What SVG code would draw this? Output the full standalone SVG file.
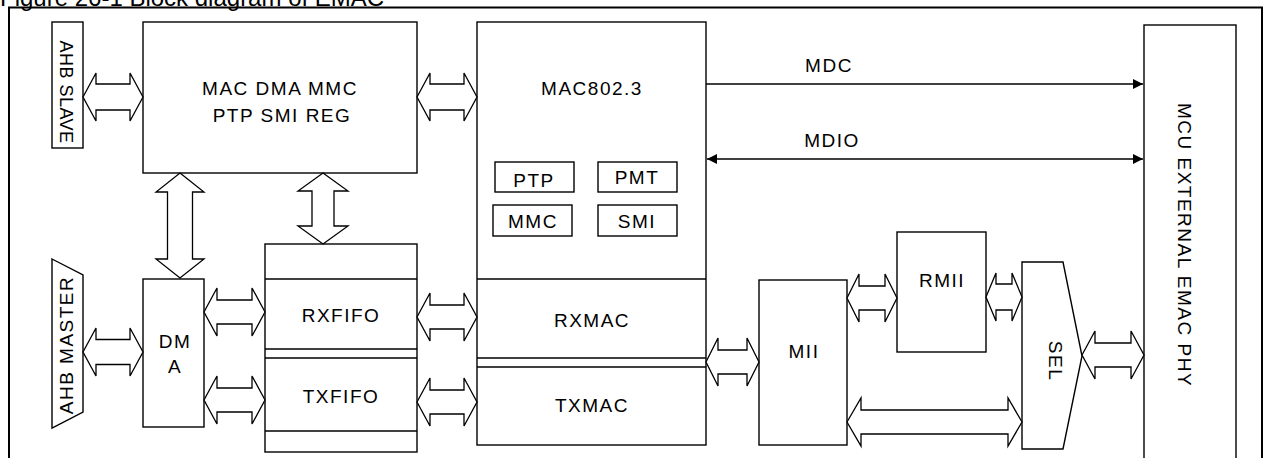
<svg xmlns="http://www.w3.org/2000/svg" width="1268" height="458" viewBox="0 0 1268 458">
<style>
.b{fill:#fff;stroke:#000;stroke-width:1.4}
.ln{fill:none;stroke:#000;stroke-width:1.4}
.ar{fill:#fff;stroke:#000;stroke-width:1.3;stroke-linejoin:miter}
text{font-family:"Liberation Sans",Arial,sans-serif;font-size:19px;letter-spacing:1.5px;fill:#000;text-anchor:middle}
.cap{font-size:24px;letter-spacing:0;text-anchor:start}
</style>
<defs>
<marker id="ah" viewBox="0 0 10 10" refX="10" refY="5" markerWidth="11" markerHeight="10" markerUnits="userSpaceOnUse" orient="auto-start-reverse">
<path d="M0,0 L10,5 L0,10 Z" fill="#000"/>
</marker>
</defs>
<rect width="1268" height="458" fill="#fff"/>
<text class="cap" x="0" y="6">Figure 26-1 Block diagram of EMAC</text>
<rect x="9" y="7.5" width="1253" height="470" fill="none" stroke="#000" stroke-width="2"/>

<g id="ahb-slave"><rect class="b" x="52" y="22" width="31" height="126"/><text transform="translate(67,92) rotate(90)" y="7" style="font-size:18px;letter-spacing:0.5px">AHB SLAVE</text></g>
<g id="mac-dma-reg"><rect class="b" x="143" y="22" width="274" height="151"/><text x="280" y="95">MAC DMA MMC</text><text x="282" y="122">PTP SMI REG</text></g>
<g id="mac8023"><rect class="b" x="477" y="22" width="229" height="423"/><text x="592" y="95">MAC802.3</text>
<line class="ln" x1="477" y1="279" x2="706" y2="279"/><line class="ln" x1="477" y1="358" x2="706" y2="358"/><line class="ln" x1="477" y1="367" x2="706" y2="367"/></g>
<g id="ptp"><rect class="b" x="495" y="162" width="79" height="30"/><text x="534" y="187">PTP</text></g>
<g id="pmt"><rect class="b" x="598" y="162" width="79" height="30"/><text x="637" y="184">PMT</text></g>
<g id="mmc"><rect class="b" x="493" y="205" width="79" height="31"/><text x="533" y="228">MMC</text></g>
<g id="smi"><rect class="b" x="598" y="205" width="79" height="31"/><text x="637" y="228">SMI</text></g>
<g id="rxmac"><text x="592" y="327">RXMAC</text></g>
<g id="txmac"><text x="592" y="412">TXMAC</text></g>
<g id="fifo"><rect class="b" x="265" y="244" width="152" height="208"/>
<line class="ln" x1="265" y1="279" x2="417" y2="279"/><line class="ln" x1="265" y1="349" x2="417" y2="349"/><line class="ln" x1="265" y1="358" x2="417" y2="358"/><line class="ln" x1="265" y1="431" x2="417" y2="431"/></g>
<g id="rxfifo"><text x="341" y="322">RXFIFO</text></g>
<g id="txfifo"><text x="341" y="403">TXFIFO</text></g>
<g id="dma"><rect class="b" x="143" y="279" width="61" height="148"/><text x="175" y="348">DM</text><text x="175" y="373">A</text></g>
<g id="ahb-master"><polygon class="b" points="52,259 83,275 83,412 52,428"/><text transform="translate(66,345) rotate(-90)" y="7">AHB MASTER</text></g>
<g id="mii"><rect class="b" x="759" y="280" width="88" height="165"/><text x="804" y="358">MII</text></g>
<g id="rmii"><rect class="b" x="897" y="232" width="89" height="120"/><text x="942" y="287">RMII</text></g>
<g id="sel"><polygon class="b" points="1022,262 1063,262 1082,356 1063,449 1022,449"/><text transform="translate(1056,361) rotate(90)" y="7">SEL</text></g>
<g id="phy"><rect class="b" x="1144" y="25" width="92" height="440"/><text transform="translate(1185,245) rotate(90)" y="7">MCU EXTERNAL EMAC PHY</text></g>

<g id="connectors">
<path class="ar" d="M83,97 L96,73 L96,84 L130,84 L130,73 L143,97 L130,121 L130,110 L96,110 L96,121 Z"/>
<path class="ar" d="M417,97 L430,73 L430,84 L464,84 L464,73 L477,97 L464,121 L464,110 L430,110 L430,121 Z"/>
<path class="ar" d="M83,352 L96,328 L96,339.5 L130,339.5 L130,328 L143,352 L130,376 L130,364.5 L96,364.5 L96,376 Z"/>
<path class="ar" d="M204,312 L217,288 L217,300 L252,300 L252,288 L265,312 L252,336 L252,324 L217,324 L217,336 Z"/>
<path class="ar" d="M204,400 L217,376 L217,388 L252,388 L252,376 L265,400 L252,424 L252,412 L217,412 L217,424 Z"/>
<path class="ar" d="M417,317 L430,293 L430,305 L464,305 L464,293 L477,317 L464,341 L464,329 L430,329 L430,341 Z"/>
<path class="ar" d="M417,402 L430,378 L430,390 L464,390 L464,378 L477,402 L464,426 L464,414 L430,414 L430,426 Z"/>
<path class="ar" d="M706,362 L718,338 L718,350 L747,350 L747,338 L759,362 L747,386 L747,374 L718,374 L718,386 Z"/>
<path class="ar" d="M847,298 L859,274 L859,286 L885,286 L885,274 L897,298 L885,322 L885,310 L859,310 L859,322 Z"/>
<path class="ar" d="M986,297 L996,273 L996,284 L1012,284 L1012,273 L1022,297 L1012,321 L1012,310 L996,310 L996,321 Z"/>
<path class="ar" d="M847,422 L861,398 L861,410 L1008,410 L1008,398 L1022,422 L1008,446 L1008,434 L861,434 L861,446 Z"/>
<path class="ar" d="M1082,355 L1095,331 L1095,343 L1131,343 L1131,331 L1144,355 L1131,379 L1131,367 L1095,367 L1095,379 Z"/>
<path class="ar" d="M180,173 L204,192 L192.5,192 L192.5,259 L204,259 L180,278 L156,259 L167.5,259 L167.5,192 L156,192 Z"/>
<path class="ar" d="M323,173 L348,191 L334,191 L334,226 L348,226 L323,244 L298,226 L312,226 L312,191 L298,191 Z"/>
<line class="ln" x1="706" y1="84" x2="1143" y2="84" marker-end="url(#ah)"/>
<line class="ln" x1="707" y1="159" x2="1143" y2="159" marker-start="url(#ah)" marker-end="url(#ah)"/>
<text x="829" y="72">MDC</text>
<text x="832" y="147">MDIO</text>
</g>
</svg>
